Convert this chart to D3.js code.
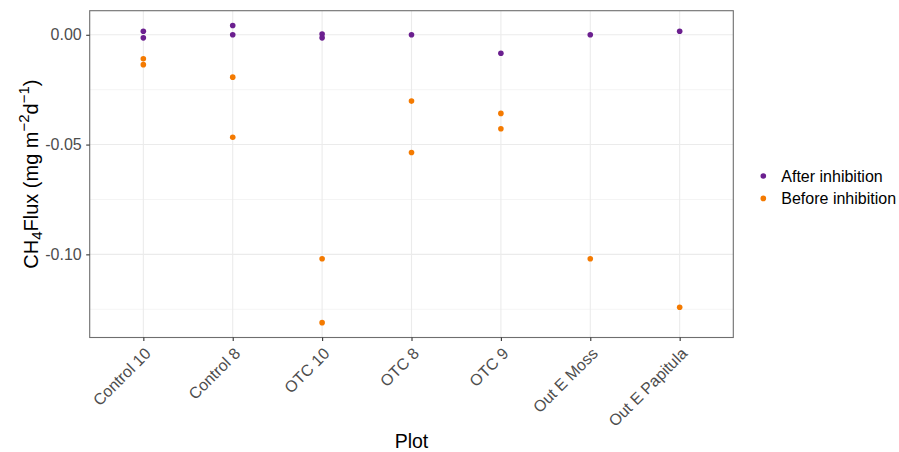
<!DOCTYPE html>
<html>
<head>
<meta charset="utf-8">
<script src="https://cdn.jsdelivr.net/npm/d3@7"></script>
<style>
  body { margin: 0; background: #fff; }
  svg { font-family: "Liberation Sans", Arial, sans-serif; }
</style>
</head>
<body>
<div id="chart"></div>
<script>
const WIDTH = 899;
const HEIGHT = 452;
const PANEL = { left: 89.7, right: 733.3, top: 10.7, bottom: 337.5 };

var plots = ["Control 10", "Control 8", "OTC 10", "OTC 8", "OTC 9", "Out E Moss", "Out E Papitula"];
var yTicks = [0.00, -0.05, -0.10];
var yMinor = [-0.025, -0.075, -0.125];

var afterPlot = ["Control 10", "Control 10", "Control 8", "Control 8", "OTC 10", "OTC 10", "OTC 8", "OTC 9", "Out E Moss", "Out E Papitula"];
var afterFlux = [0.0016, -0.0014, 0.0042, 0.0000, 0.0003, -0.0014, 0.0000, -0.0084, 0.0000, 0.0016];

var beforePlot = ["Control 10", "Control 10", "Control 8", "Control 8", "OTC 10", "OTC 10", "OTC 8", "OTC 8", "OTC 9", "OTC 9", "Out E Moss", "Out E Papitula"];
var beforeFlux = [-0.0109, -0.0136, -0.0193, -0.0467, -0.1020, -0.1311, -0.0302, -0.0536, -0.0358, -0.0428, -0.1020, -0.1241];

var groups = ["After inhibition", "Before inhibition"];
var colors = ["#6B1F8F", "#F47A00"];

var translate = function (x, y) {
    return "translate(" + x + "," + y + ")";
};

var svg = d3.select("#chart").append("svg")
    .attr("width", WIDTH)
    .attr("height", HEIGHT);

var xScale = d3.scalePoint()
    .domain(plots)
    .range([PANEL.left, PANEL.right])
    .padding(0.6);

var allVals = afterFlux.concat(beforeFlux);
var ext = d3.extent(allVals);
var pad = (ext[1] - ext[0]) * 0.05;
var yScale = d3.scaleLinear()
    .domain([ext[0] - pad, ext[1] + pad])
    .range([PANEL.bottom, PANEL.top]);

var color = d3.scaleOrdinal().domain(groups).range(colors);

// grid
var grid = svg.append("g");
grid.selectAll(".minor").data(yMinor).enter().append("line")
    .attr("x1", PANEL.left).attr("x2", PANEL.right)
    .attr("y1", d => yScale(d)).attr("y2", d => yScale(d))
    .attr("stroke", "#EBEBEB").attr("stroke-width", 0.55);
grid.selectAll(".major").data(yTicks).enter().append("line")
    .attr("x1", PANEL.left).attr("x2", PANEL.right)
    .attr("y1", d => yScale(d)).attr("y2", d => yScale(d))
    .attr("stroke", "#EBEBEB").attr("stroke-width", 1.1);
grid.selectAll(".vmajor").data(plots).enter().append("line")
    .attr("y1", PANEL.top).attr("y2", PANEL.bottom)
    .attr("x1", d => xScale(d)).attr("x2", d => xScale(d))
    .attr("stroke", "#EBEBEB").attr("stroke-width", 1.1);

// points
var points = [];
afterPlot.forEach((p, i) => points.push({ plot: p, v: afterFlux[i], g: groups[0] }));
beforePlot.forEach((p, i) => points.push({ plot: p, v: beforeFlux[i], g: groups[1] }));

svg.append("g").selectAll("circle")
    .data(points)
    .enter()
    .append("circle")
    .attr("cx", d => xScale(d.plot))
    .attr("cy", d => yScale(d.v))
    .attr("r", 2.8)
    .attr("fill", d => color(d.g));

// panel border
svg.append("rect")
    .attr("x", PANEL.left).attr("y", PANEL.top)
    .attr("width", PANEL.right - PANEL.left)
    .attr("height", PANEL.bottom - PANEL.top)
    .attr("fill", "none")
    .attr("stroke", "#6E6E6E")
    .attr("stroke-width", 1.1);

// y axis
var yAxis = d3.axisLeft(yScale)
    .tickValues(yTicks)
    .tickSize(3.5)
    .tickPadding(4.5)
    .tickFormat(d3.format(".2f"));
var gy = svg.append("g")
    .attr("transform", translate(PANEL.left, 0))
    .call(yAxis);
gy.select(".domain").remove();
gy.selectAll(".tick line").attr("stroke", "#333333").attr("stroke-width", 1.1);
gy.selectAll(".tick text")
    .attr("fill", "#4D4D4D")
    .style("font-size", "16px")
    .style("font-family", "Liberation Sans, Arial, sans-serif")
    .text(d => d3.format(".2f")(d).replace("−", "-"));

// x axis
var xAxis = d3.axisBottom(xScale).tickSize(3.5).tickSizeOuter(0);
var gx = svg.append("g")
    .attr("transform", translate(0, PANEL.bottom))
    .call(xAxis);
gx.select(".domain").remove();
gx.selectAll(".tick line").attr("stroke", "#333333").attr("stroke-width", 1.1);
gx.selectAll(".tick text")
    .attr("fill", "#4D4D4D")
    .style("font-size", "16px")
    .style("font-family", "Liberation Sans, Arial, sans-serif")
    .attr("text-anchor", "end")
    .attr("x", 0)
    .attr("y", 0)
    .attr("dy", "0.71em")
    .attr("transform", "translate(0,9) rotate(-45)");

// axis titles
svg.append("text")
    .attr("x", (PANEL.left + PANEL.right) / 2)
    .attr("y", 448)
    .attr("text-anchor", "middle")
    .style("font-size", "19.5px")
    .attr("fill", "#000")
    .text("Plot");

var yt = svg.append("text")
    .attr("transform", translate(37.5, (PANEL.top + PANEL.bottom) / 2) + " rotate(-90)")
    .attr("text-anchor", "middle")
    .style("font-size", "20px")
    .attr("fill", "#000");
yt.append("tspan").text("CH");
yt.append("tspan").attr("dy", 4).style("font-size", "15px").text("4");
yt.append("tspan").attr("dy", -4).text("Flux (mg m");
yt.append("tspan").attr("dy", -8.5).style("font-size", "15px").text("\u22122");
yt.append("tspan").attr("dy", 8.5).text("d");
yt.append("tspan").attr("dy", -8.5).style("font-size", "15px").text("\u22121");
yt.append("tspan").attr("dy", 8.5).text(")");

// legend
var legend = svg.append("g").attr("transform", translate(763.3, 176));
var items = legend.selectAll("g").data(groups).enter().append("g")
    .attr("transform", (d, i) => translate(0, i * 22.4));
items.append("circle").attr("r", 2.8).attr("fill", d => color(d));
items.append("text")
    .attr("x", 18)
    .attr("dy", "0.36em")
    .style("font-size", "16px")
    .attr("fill", "#000")
    .text(d => d);
</script>
</body>
</html>
